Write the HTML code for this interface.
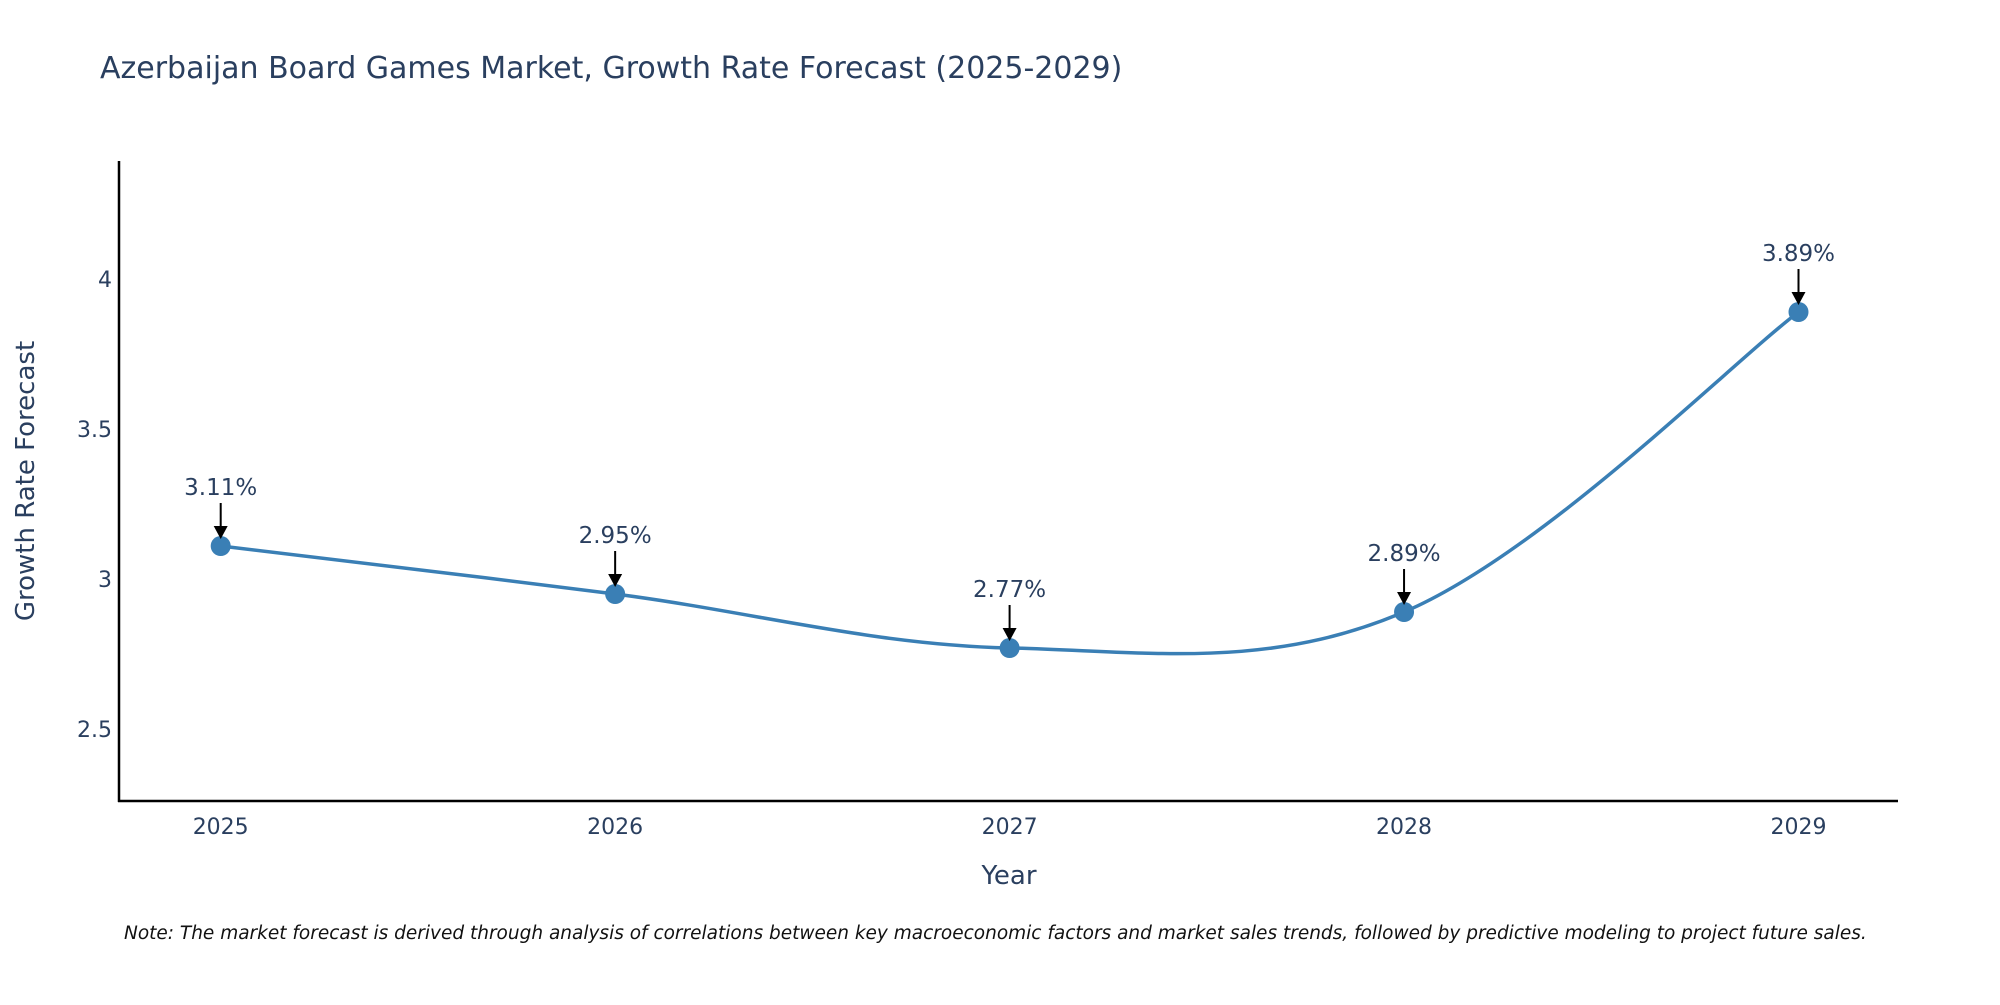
<!DOCTYPE html>
<html><head><meta charset="utf-8"><style>
html,body{margin:0;padding:0;background:#fff;}
svg text{font-family:"DejaVu Sans","Liberation Sans",sans-serif;fill:#2a3f5f;}
</style></head><body>
<svg id="chart" width="2000" height="1000" xmlns="http://www.w3.org/2000/svg">
<text x="100" y="78" font-size="30">Azerbaijan Board Games Market, Growth Rate Forecast (2025-2029)</text>
<g id="yticks"></g>
<g id="xticks"></g>
<line x1="119" y1="161" x2="119" y2="802" stroke="#000" stroke-width="2.5"/>
<line x1="118" y1="801" x2="1898" y2="801" stroke="#000" stroke-width="2.5"/>
<path id="line" fill="none" stroke="#3a7fb5" stroke-width="3.5"/>
<g id="points"></g>
<g id="annots"></g>
<text transform="translate(34,481) rotate(-90)" text-anchor="middle" font-size="26">Growth Rate Forecast</text>
<text x="1009" y="884" text-anchor="middle" font-size="26">Year</text>
<text x="124" y="939" font-size="18.5" font-style="italic" style="fill:#111">Note: The market forecast is derived through analysis of correlations between key macroeconomic factors and market sales trends, followed by predictive modeling to project future sales.</text>
</svg>
<script>
const years=[2025,2026,2027,2028,2029];
const values=[3.11,2.95,2.77,2.89,3.89];
const yTickVals=[2.5,3,3.5,4];
const yTickLabels=["2.5","3","3.5","4"];
const NS="http://www.w3.org/2000/svg";
function xs(v){return 220.7+(v-2025)*394.45;}
function ys(v){return 579-(v-3)*300;}
function mk(t,a,p){const e=document.createElementNS(NS,t);for(const k in a)e.setAttribute(k,a[k]);p.appendChild(e);return e;}
const yt=document.getElementById('yticks');
yTickVals.forEach((v,i)=>{const t=mk('text',{x:112,y:ys(v)+8,'text-anchor':'end','font-size':'22'},yt);


t.textContent=yTickLabels[i];});
const xt=document.getElementById('xticks');
years.forEach(y=>{const t=mk('text',{x:xs(y),y:834,'text-anchor':'middle','font-size':'22'},xt);


t.textContent=y;});
const P=years.map((y,i)=>[xs(y),ys(values[i])]);
let d='M'+P[0][0]+','+P[0][1];const s=0.35;
for(let i=0;i<P.length-1;i++){const p0=P[i-1]||P[i],p1=P[i],p2=P[i+1],p3=P[i+2]||P[i+1];
const c1=[p1[0]+(p2[0]-p0[0])*s/2,p1[1]+(p2[1]-p0[1])*s/2];
const c2=[p2[0]-(p3[0]-p1[0])*s/2,p2[1]-(p3[1]-p1[1])*s/2];
d+=' C'+c1+' '+c2+' '+p2;}
document.getElementById('line').setAttribute('d',d);
const pts=document.getElementById('points'),an=document.getElementById('annots');
P.forEach((p,i)=>{const c=mk('circle',{cx:p[0],cy:p[1],r:10,fill:'#3a7fb5'},pts);


const l=mk('line',{x1:p[0],y1:p[1]-43,x2:p[0],y2:p[1]-20,stroke:'#000','stroke-width':2},an);


const h=mk('polygon',{points:`${p[0]-7},${p[1]-20} ${p[0]+7},${p[1]-20} ${p[0]},${p[1]-7}`,fill:'#000'},an);


const t=mk('text',{x:p[0],y:p[1]-51,'text-anchor':'middle','font-size':'23'},an);


t.textContent=values[i].toFixed(2)+'%';});
</script>
</body></html>
